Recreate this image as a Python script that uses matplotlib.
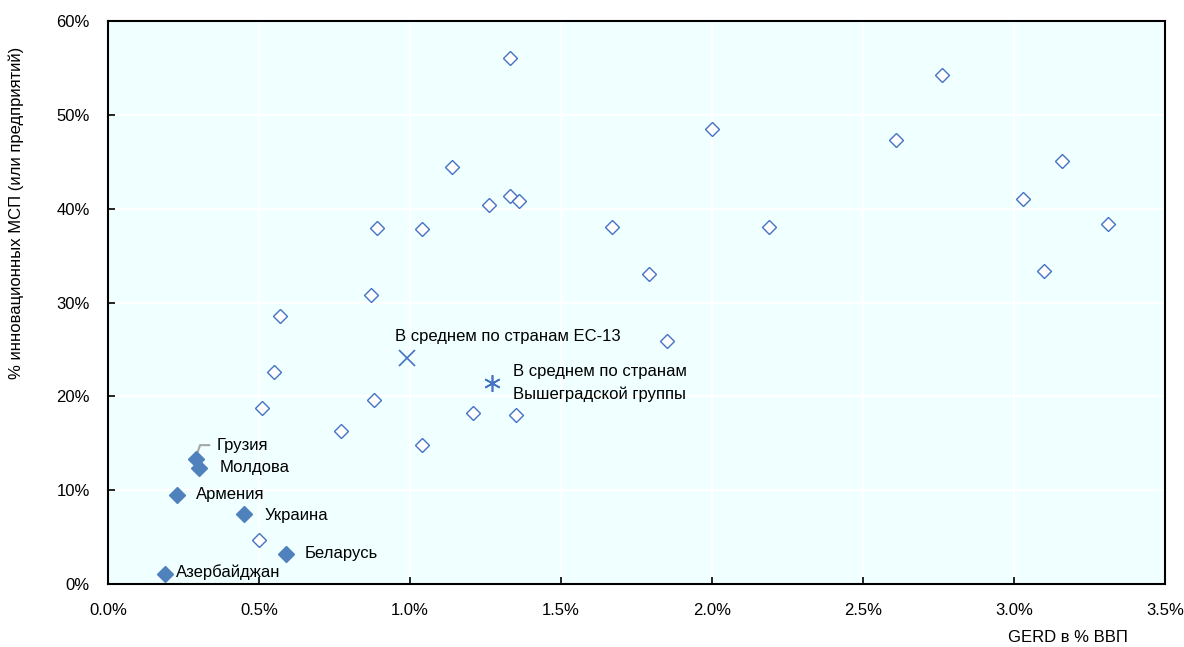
import matplotlib
matplotlib.use("Agg")
import matplotlib.pyplot as plt
from matplotlib.ticker import FuncFormatter

plt.rcParams['font.family'] = ['Liberation Sans Narrow', 'Liberation Sans', 'DejaVu Sans']

# Countries of the Eastern Partnership (highlighted)
ep_names = ["Грузия", "Молдова", "Армения", "Украина", "Беларусь", "Азербайджан"]
ep_gerd = [0.29, 0.30, 0.23, 0.45, 0.59, 0.19]
ep_innov = [13.3, 12.4, 9.5, 7.5, 3.2, 1.1]

# Other reference countries
oth_gerd = [1.33, 2.76, 2.00, 2.61, 3.16, 1.14, 1.33, 1.26, 1.36, 3.03,
            0.89, 1.04, 1.67, 2.19, 3.31, 1.79, 3.10, 0.87, 0.57, 1.85,
            0.55, 0.51, 0.88, 1.21, 1.35, 0.77, 1.04, 0.50]
oth_innov = [56.1, 54.2, 48.5, 47.3, 45.1, 44.4, 41.4, 40.4, 40.8, 41.0,
             37.9, 37.8, 38.0, 38.0, 38.4, 33.0, 33.4, 30.8, 28.6, 25.9,
             22.6, 18.8, 19.6, 18.2, 18.0, 16.3, 14.8, 4.7]

# Group averages
eu13_gerd, eu13_innov = 0.99, 24.1
v4_gerd, v4_innov = 1.27, 21.4

x_ticks = [0.0, 0.5, 1.0, 1.5, 2.0, 2.5, 3.0, 3.5]
y_ticks = [0, 10, 20, 30, 40, 50, 60]

blue = "#4F81BD"
edge = "#4472C4"

fig = plt.figure(figsize=(11.84, 6.47), dpi=100)
ax = fig.add_axes([0.0912, 0.0974, 0.8928, 0.8701])
ax.set_facecolor("#F0FFFF")

ax.set_xlim(0, 3.5)
ax.set_ylim(0, 60)
ax.set_xticks(x_ticks)
ax.set_yticks(y_ticks)
ax.xaxis.set_major_formatter(FuncFormatter(lambda v, p: f"{v:.1f}%"))
ax.yaxis.set_major_formatter(FuncFormatter(lambda v, p: f"{v:.0f}%"))
ax.grid(True, color="white", linewidth=1.5)
ax.set_axisbelow(True)
for s in ax.spines.values():
    s.set_linewidth(1.5)
    s.set_color("black")
ax.tick_params(direction="in", length=5, width=1.2, labelsize=12)
ax.tick_params(axis="x", pad=14)
ax.tick_params(axis="y", pad=13)

ax.plot(oth_gerd, oth_innov, linestyle="none", marker="D", markersize=7.5,
        markerfacecolor="white", markeredgecolor=edge, markeredgewidth=1.0, zorder=3)
ax.plot(ep_gerd, ep_innov, linestyle="none", marker="D", markersize=8.5,
        markerfacecolor=blue, markeredgecolor=blue, zorder=4)
ax.plot([eu13_gerd], [eu13_innov], linestyle="none", marker="x", markersize=11,
        markeredgecolor=edge, markeredgewidth=1.2, zorder=4)
ax.plot([v4_gerd], [v4_innov], linestyle="none", marker=(6, 2, 0), markersize=12,
        markeredgecolor=edge, markeredgewidth=1.2, zorder=4)

lbl = dict(fontsize=12, color="black", va="center", ha="left")
offsets = {
    "Молдова": (0.07, 0.0),
    "Армения": (0.06, 0.0),
    "Украина": (0.07, -0.2),
    "Беларусь": (0.06, 0.1),
    "Азербайджан": (0.035, 0.2),
}
for n, gx, gy in zip(ep_names, ep_gerd, ep_innov):
    if n == "Грузия":
        continue
    dx, dy = offsets[n]
    ax.text(gx + dx, gy + dy, n, **lbl)

# Leader line for Georgia
g_x, g_y = ep_gerd[0], ep_innov[0]
ax.plot([g_x + 0.003, g_x + 0.015, g_x + 0.045], [g_y + 0.4, g_y + 1.5, g_y + 1.5],
        color="#A6A6A6", linewidth=1.5, zorder=2)
ax.text(g_x + 0.07, g_y + 1.5, "Грузия", **lbl)

ax.text(eu13_gerd - 0.04, eu13_innov + 2.3, "В среднем по странам ЕС-13", **lbl)
ax.text(v4_gerd + 0.07, v4_innov, "В среднем по странам\nВышеградской группы",
        fontsize=12, color="black", va="center", ha="left", linespacing=1.6)

fig.text(16 / 1184, 1 - 213 / 647, "% инновационных МСП (или предприятий)",
         fontsize=12, rotation=90, ha="center", va="center")
fig.text(1068 / 1184, 1 - 637 / 647, "GERD в % ВВП", fontsize=12, ha="center", va="center")

fig.savefig("out.png", dpi=100)
